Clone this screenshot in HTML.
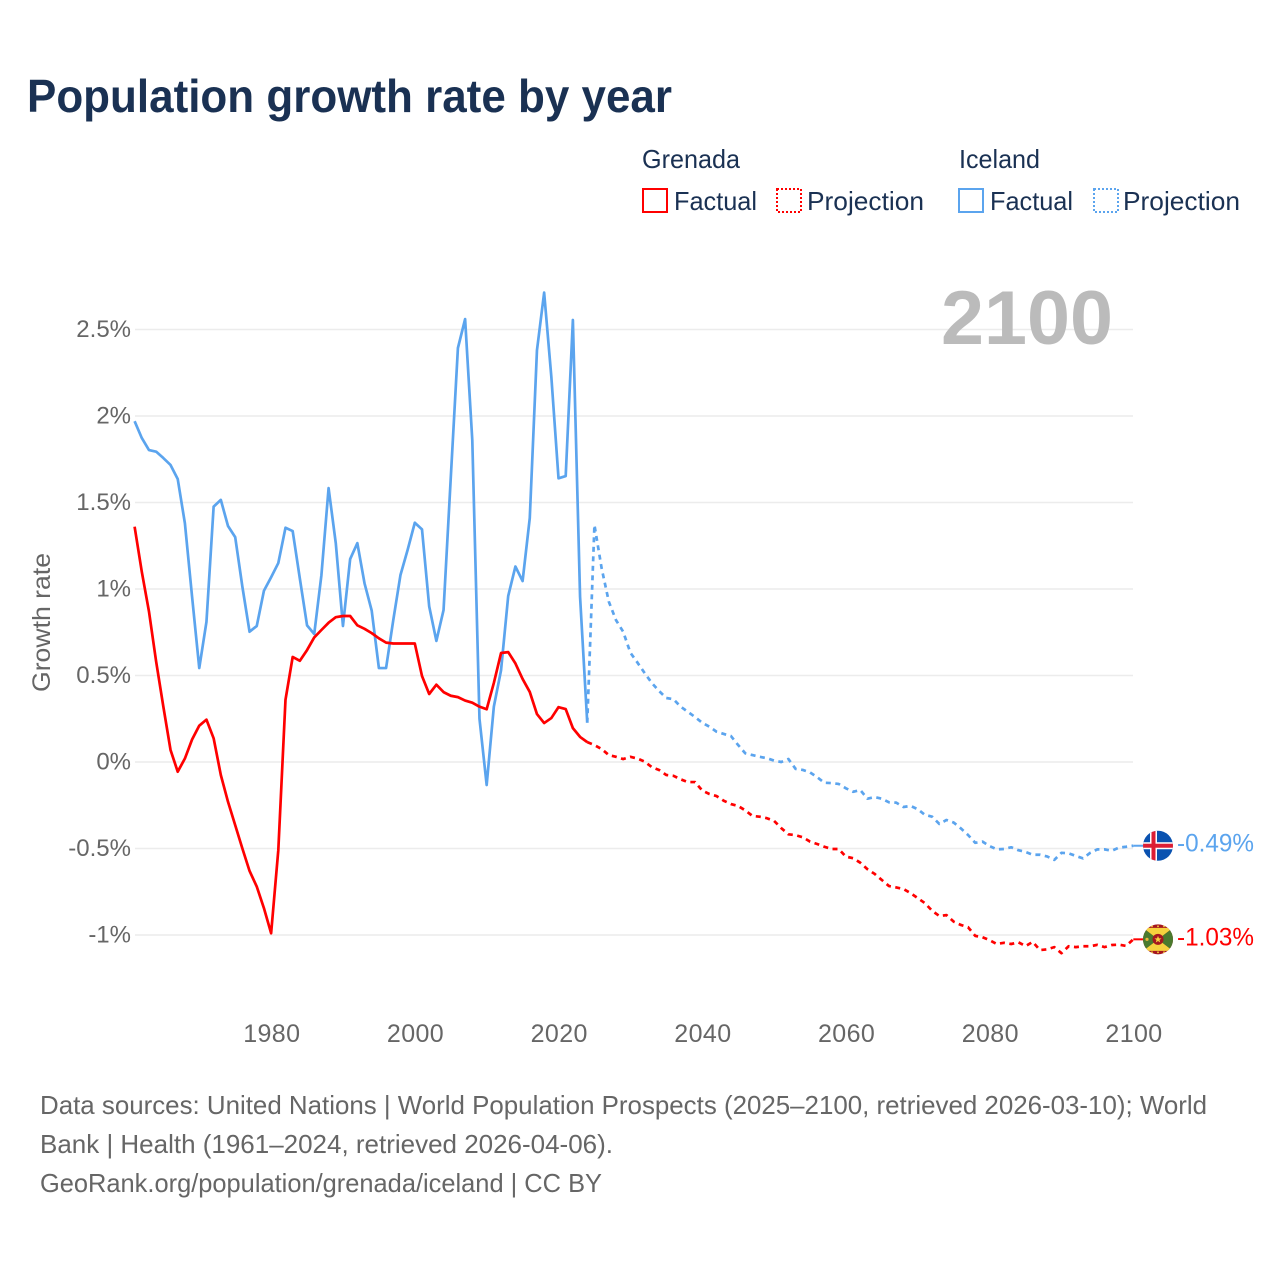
<!DOCTYPE html>
<html lang="en">
<head>
<meta charset="utf-8">
<title>Population growth rate by year</title>
<style>
html,body{margin:0;padding:0;background:#fff;}
svg{display:block;font-family:"Liberation Sans",sans-serif;}
</style>
</head>
<body>
<svg id="chart" xmlns="http://www.w3.org/2000/svg" width="1280" height="1280" viewBox="0 0 1280 1280">
  <defs>
    <clipPath id="flag-clip"><circle cx="0" cy="0" r="15"></circle></clipPath>
  </defs>
  <rect width="1280" height="1280" fill="#fff"></rect>
  <text x="27" y="112" font-size="46" font-weight="700" fill="#1a3153" textLength="645" lengthAdjust="spacingAndGlyphs">Population growth rate by year</text>

  <g font-size="26" fill="#1a3153">
    <text x="642" y="168" textLength="98" lengthAdjust="spacingAndGlyphs">Grenada</text>
    <text x="959" y="168" textLength="81" lengthAdjust="spacingAndGlyphs">Iceland</text>
    <rect x="643" y="189" width="24" height="23" fill="none" stroke="#ff0000" stroke-width="2"></rect>
    <text x="674" y="210" textLength="83" lengthAdjust="spacingAndGlyphs">Factual</text>
    <rect x="777" y="189" width="24" height="23" fill="none" stroke="#ff0000" stroke-width="2" stroke-dasharray="2 2"></rect>
    <text x="807" y="210" textLength="117" lengthAdjust="spacingAndGlyphs">Projection</text>
    <rect x="959" y="189" width="24" height="23" fill="none" stroke="#5ba4ee" stroke-width="2"></rect>
    <text x="990" y="210" textLength="83" lengthAdjust="spacingAndGlyphs">Factual</text>
    <rect x="1094" y="189" width="24" height="23" fill="none" stroke="#5ba4ee" stroke-width="2" stroke-dasharray="2 2"></rect>
    <text x="1123" y="210" textLength="117" lengthAdjust="spacingAndGlyphs">Projection</text>
  </g>

  <g id="grid"></g>
  <g id="y-ticks"></g>
  <g id="x-ticks"></g>

  <text transform="translate(50,622.5) rotate(-90)" text-anchor="middle" font-size="25" fill="#666" textLength="139" lengthAdjust="spacingAndGlyphs">Growth rate</text>
  <text x="941" y="344" font-size="76" font-weight="700" fill="#bbbbbb" textLength="172" lengthAdjust="spacingAndGlyphs">2100</text>

  <g id="series"></g>

  <g id="flag-iceland">
    <g clip-path="url(#flag-clip)">
      <rect x="-16" y="-16" width="32" height="32" fill="#0a52b0"></rect>
      <rect x="-16" y="-3.5" width="32" height="7" fill="#fff"></rect>
      <rect x="-8" y="-16" width="7" height="32" fill="#fff"></rect>
      <rect x="-16" y="-2" width="32" height="4" fill="#dc1e35"></rect>
      <rect x="-6.5" y="-16" width="4" height="32" fill="#dc1e35"></rect>
    </g>
  </g>
  <g id="flag-grenada">
    <g clip-path="url(#flag-clip)">
      <rect x="-16" y="-16" width="32" height="32" fill="#a5161f"></rect>
      <polygon points="-15,-11.5 15,-11.5 0,0" fill="#f6d23e"></polygon>
      <polygon points="-15,11.5 15,11.5 0,0" fill="#f6d23e"></polygon>
      <polygon points="-15,-11.5 0,0 -15,11.5" fill="#4a7a2e"></polygon>
      <polygon points="15,-11.5 0,0 15,11.5" fill="#4a7a2e"></polygon>
      <circle cx="0" cy="0" r="5.5" fill="#a5161f"></circle>
      <polygon points="0,-3.5 1,-1 3.5,-1 1.5,0.7 2.2,3.2 0,1.7 -2.2,3.2 -1.5,0.7 -3.5,-1 -1,-1" fill="#f6d23e"></polygon>
      <circle cx="-11" cy="0" r="1.6" fill="#e8b93a"></circle>
      <circle cx="-6" cy="-13" r="0.9" fill="#f6d23e"></circle>
      <circle cx="0" cy="-13" r="0.9" fill="#f6d23e"></circle>
      <circle cx="6" cy="-13" r="0.9" fill="#f6d23e"></circle>
      <circle cx="-6" cy="13" r="0.9" fill="#f6d23e"></circle>
      <circle cx="0" cy="13" r="0.9" fill="#f6d23e"></circle>
      <circle cx="6" cy="13" r="0.9" fill="#f6d23e"></circle>
    </g>
  </g>
  <g id="end-labels"></g>

  <g font-size="26" fill="#666">
    <text x="40" y="1114" textLength="1167" lengthAdjust="spacingAndGlyphs">Data sources: United Nations | World Population Prospects (2025–2100, retrieved 2026-03-10); World</text>
    <text x="40" y="1153" textLength="573" lengthAdjust="spacingAndGlyphs">Bank | Health (1961–2024, retrieved 2026-04-06).</text>
    <text x="40" y="1192" textLength="562" lengthAdjust="spacingAndGlyphs">GeoRank.org/population/grenada/iceland | CC BY</text>
  </g>
</svg>
<script>
var factualStartYear = 1961;
var projectionStartYear = 2025;
var yTickValues = [-1, -0.5, 0, 0.5, 1, 1.5, 2, 2.5];
var yTickLabels = ["-1%", "-0.5%", "0%", "0.5%", "1%", "1.5%", "2%", "2.5%"];
var xTickYears = [1980, 2000, 2020, 2040, 2060, 2080, 2100];
var xTickLabels = ["1980", "2000", "2020", "2040", "2060", "2080", "2100"];
var grenadaFactual = [
  1.36,1.10,0.87,0.58,0.32,0.07,-0.056,0.02,0.13,0.21,
  0.245,0.137,-0.075,-0.23,-0.365,-0.50,-0.63,-0.72,-0.845,-0.99,
  -0.51,0.36,0.607,0.585,0.647,0.72,0.763,0.805,0.837,0.844,
  0.844,0.79,0.77,0.745,0.715,0.69,0.685,0.685,0.685,0.685,
  0.497,0.393,0.447,0.404,0.383,0.375,0.355,0.343,0.32,0.305,
  0.457,0.63,0.635,0.57,0.48,0.405,0.277,0.225,0.254,0.317,
  0.306,0.196,0.145,0.115
];
var grenadaProjection = [
  0.098,0.075,0.04,0.03,0.017,0.03,
  0.02,0.002,-0.03,-0.046,-0.075,-0.08,-0.1,-0.116,-0.116,-0.165,
  -0.185,-0.197,-0.224,-0.243,-0.254,-0.28,-0.312,-0.316,-0.325,-0.34,
  -0.382,-0.418,-0.423,-0.435,-0.46,-0.474,-0.49,-0.503,-0.503,-0.547,
  -0.556,-0.582,-0.62,-0.647,-0.682,-0.717,-0.725,-0.734,-0.758,-0.787,
  -0.816,-0.86,-0.89,-0.885,-0.923,-0.942,-0.955,-1.005,-1.013,-1.03,
  -1.052,-1.045,-1.052,-1.042,-1.064,-1.04,-1.087,-1.083,-1.07,-1.105,
  -1.065,-1.07,-1.065,-1.065,-1.057,-1.07,-1.058,-1.056,-1.063,-1.025
];
var icelandFactual = [
  1.97,1.873,1.803,1.794,1.757,1.717,1.636,1.38,0.955,0.543,
  0.81,1.476,1.515,1.364,1.3,1.013,0.753,0.786,0.99,1.068,
  1.15,1.354,1.335,1.06,0.79,0.74,1.08,1.583,1.265,0.786,
  1.173,1.265,1.033,0.875,0.543,0.543,0.82,1.08,1.226,1.383,
  1.345,0.9,0.70,0.878,1.64,2.393,2.56,1.86,0.25,-0.133,
  0.32,0.53,0.96,1.13,1.046,1.41,2.38,2.713,2.227,1.64,
  1.653,2.555,0.955,0.227
];
var icelandProjection = [
  1.37,1.12,0.927,0.82,0.753,0.632,
  0.574,0.513,0.456,0.41,0.37,0.363,0.32,0.29,0.26,0.227,
  0.204,0.175,0.162,0.15,0.098,0.05,0.04,0.03,0.022,0.008,
  0,0.017,-0.04,-0.046,-0.06,-0.088,-0.12,-0.122,-0.127,-0.152,
  -0.172,-0.162,-0.212,-0.203,-0.212,-0.233,-0.235,-0.26,-0.254,-0.273,
  -0.306,-0.316,-0.358,-0.335,-0.35,-0.384,-0.422,-0.467,-0.46,-0.486,
  -0.505,-0.503,-0.493,-0.51,-0.52,-0.536,-0.536,-0.546,-0.566,-0.525,
  -0.528,-0.543,-0.557,-0.525,-0.505,-0.505,-0.513,-0.495,-0.49,-0.484
];
var endValueLabels = ["-0.49%", "-1.03%"];

var SVG_NS = "http://www.w3.org/2000/svg";
var RED = "#ff0000";
var BLUE = "#5ba4ee";
function xScale(year) { return 134.6 + (year - 1961) * 7.185; }
function yScale(v) { return 762 - v * 173; }
function make(tag, attrs, parent, text) {
  var el = document.createElementNS(SVG_NS, tag);
  for (var k in attrs) { el.setAttribute(k, attrs[k]); }
  if (text !== undefined) { el.textContent = text; }
  parent.appendChild(el);
  return el;
}
function pathFrom(startYear, values) {
  return values.map(function (v, i) {
    return (i ? "L" : "M") + xScale(startYear + i).toFixed(2) + " " + yScale(v).toFixed(2);
  }).join(" ");
}

var gridGroup = document.getElementById("grid");
var yGroup = document.getElementById("y-ticks");
yTickValues.forEach(function (v, i) {
  var line = make("line", { x1: 135, x2: 1133, y1: yScale(v), y2: yScale(v), stroke: "#ececec", "stroke-width": 1.6 }, gridGroup);
  
  
  var label = make("text", { x: 131, y: yScale(v) + 7.5, "text-anchor": "end", "font-size": 24, fill: "#666" }, yGroup, yTickLabels[i]);
  
  
});

var xGroup = document.getElementById("x-ticks");
xTickYears.forEach(function (year, i) {
  var label = make("text", { x: xScale(year) + 0.7, y: 1042, "text-anchor": "middle", "font-size": 25, "letter-spacing": 0.4, fill: "#666" }, xGroup, xTickLabels[i]);
  
  
});

var seriesGroup = document.getElementById("series");
var lastYear = projectionStartYear + grenadaProjection.length - 1;
var dash = "5 4.5";

var grenadaProjLine = make("path", { d: pathFrom(projectionStartYear - 1, [grenadaFactual[grenadaFactual.length - 1]].concat(grenadaProjection)), fill: "none", stroke: RED, "stroke-width": 2.7, "stroke-dasharray": dash, "stroke-linejoin": "round" }, seriesGroup);



var icelandProjLine = make("path", { d: pathFrom(projectionStartYear - 1, [icelandFactual[icelandFactual.length - 1]].concat(icelandProjection)), fill: "none", stroke: BLUE, "stroke-width": 2.7, "stroke-dasharray": dash, "stroke-linejoin": "round" }, seriesGroup);



var icelandLine = make("path", { d: pathFrom(factualStartYear, icelandFactual), fill: "none", stroke: BLUE, "stroke-width": 2.7, "stroke-linejoin": "round" }, seriesGroup);



var grenadaLine = make("path", { d: pathFrom(factualStartYear, grenadaFactual), fill: "none", stroke: RED, "stroke-width": 2.7, "stroke-linejoin": "round" }, seriesGroup);



var icelandEnd = yScale(icelandProjection[icelandProjection.length - 1]);
var grenadaEnd = yScale(grenadaProjection[grenadaProjection.length - 1]);

var icelandLeader = make("line", { x1: xScale(lastYear), x2: 1145, y1: icelandEnd, y2: icelandEnd, stroke: BLUE, "stroke-width": 2 }, seriesGroup);



var grenadaLeader = make("line", { x1: xScale(lastYear), x2: 1145, y1: grenadaEnd, y2: grenadaEnd, stroke: RED, "stroke-width": 2 }, seriesGroup);



document.getElementById("flag-iceland").setAttribute("transform", "translate(1158," + icelandEnd + ")");
document.getElementById("flag-grenada").setAttribute("transform", "translate(1158," + grenadaEnd + ")");

var endGroup = document.getElementById("end-labels");
var icelandLabel = make("text", { x: 1177, y: icelandEnd + 6, "font-size": 25, fill: BLUE, textLength: 77, lengthAdjust: "spacingAndGlyphs" }, endGroup, endValueLabels[0]);



var grenadaLabel = make("text", { x: 1177, y: grenadaEnd + 6, "font-size": 25, fill: RED, textLength: 77, lengthAdjust: "spacingAndGlyphs" }, endGroup, endValueLabels[1]);


</script>
</body>
</html>
